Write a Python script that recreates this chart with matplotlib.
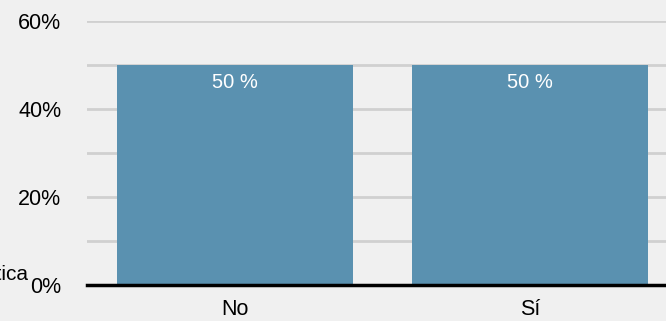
import matplotlib.pyplot as plt
from matplotlib.ticker import MultipleLocator, FuncFormatter

categorias = ["No", "Sí"]
porcentajes = [50, 50]
etiquetas = ["50 %", "50 %"]

plt.rcParams["font.family"] = ["Liberation Sans", "DejaVu Sans"]

fondo = "#f0f0f0"
fig = plt.figure(figsize=(6.66, 3.21), dpi=100, facecolor=fondo)
ax = fig.add_axes([87 / 666, 36 / 321, 579 / 666, 264 / 321])
ax.set_facecolor(fondo)

x = range(len(categorias))
barras = ax.bar(x, porcentajes, width=0.8, color="#5a91b0", zorder=2)

for b, txt in zip(barras, etiquetas):
    ax.text(b.get_x() + b.get_width() / 2, b.get_height() - 1.8, txt,
            ha="center", va="top", color="white", fontsize=14.5, zorder=3)

ax.set_xlim(-0.5, 1.46)
ax.set_ylim(0, 60)
ax.yaxis.set_major_locator(MultipleLocator(20))
ax.yaxis.set_minor_locator(MultipleLocator(10))
ax.yaxis.set_major_formatter(FuncFormatter(lambda v, p: f"{v:.0f}%"))
ax.grid(axis="y", which="both", color="#d0d0d0", linewidth=2, zorder=0)
ax.set_xticks(list(x))
ax.set_xticklabels(categorias)

for s in ["top", "right", "left"]:
    ax.spines[s].set_visible(False)
ax.spines["bottom"].set_linewidth(2.5)
ax.spines["bottom"].set_color("black")
ax.spines["bottom"].set_zorder(4)
ax.tick_params(axis="both", which="both", length=0, labelsize=15.5, colors="black")
ax.tick_params(axis="y", pad=18.5)
ax.tick_params(axis="x", pad=10)

# título del eje, recortado por el borde izquierdo
fig.text(28 / 666, 1 - 280 / 321, "Frecuencia de práctica", ha="right", va="baseline", fontsize=15)

fig.savefig("out.png", dpi=100, facecolor=fondo)
